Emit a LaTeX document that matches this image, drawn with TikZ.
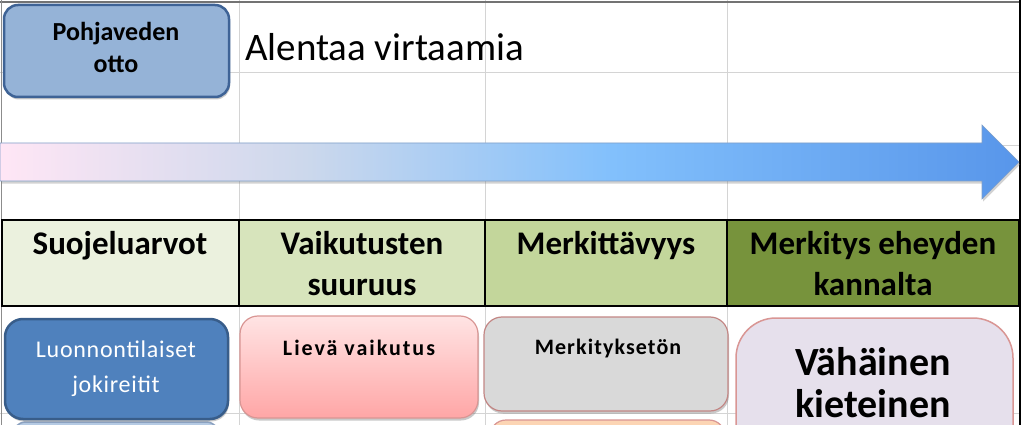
\documentclass[tikz,border=0pt]{standalone}
\usepackage{fontspec}
\setmainfont{Carlito}
\usetikzlibrary{shadows}
\definecolor{gridgray}{HTML}{D4D4D4}
\definecolor{hdrA}{HTML}{EBF1DE}
\definecolor{hdrB}{HTML}{D7E4BC}
\definecolor{hdrC}{HTML}{C3D69B}
\definecolor{hdrD}{HTML}{77933C}
\definecolor{boxblueL}{HTML}{95B3D7}
\definecolor{boxblueLd}{HTML}{3E6396}
\definecolor{boxblue}{HTML}{4F81BD}
\definecolor{boxblued}{HTML}{385D8A}
\definecolor{pinkT}{HTML}{FFE4E4}
\definecolor{pinkB}{HTML}{FFA6A6}
\definecolor{redline}{HTML}{D99694}
\definecolor{graybox}{HTML}{D9D9D9}
\definecolor{peach}{HTML}{FCD5B4}
\definecolor{lavender}{HTML}{E6E0EC}
\definecolor{arrL}{HTML}{FFE6F5}
\definecolor{arrQ}{HTML}{CCD8EC}
\definecolor{arrM}{HTML}{82C0FC}
\definecolor{arrR}{HTML}{5896EA}
\definecolor{arrline}{HTML}{7F9FC8}
\pgfdeclarehorizontalshading{arrowshade}{100bp}{color(0bp)=(arrL); color(25bp)=(arrL); color(40bp)=(arrQ); color(55bp)=(arrM); color(75bp)=(arrR); color(100bp)=(arrR)}
\tikzset{
  grid/.style={draw=gridgray, line width=0.8pt},
  hdrcell/.style={draw=black, line width=1.2pt},
  hdrtext/.style={anchor=base, inner sep=0pt, font=\fontsize{33}{35}\selectfont\bfseries},
  shad/.style={drop shadow={shadow xshift=1pt, shadow yshift=-2.5pt, opacity=0.35, fill=black!60}},
}
\begin{document}
\begin{tikzpicture}[x=1pt,y=-1pt]
\useasboundingbox (0,0) rectangle (1023,425);
\fill[white] (0,0) rectangle (1023,425);
% grid lines
\draw[grid] (239,0) -- (239,425);
\draw[grid] (485,0) -- (485,425);
\draw[grid] (727,0) -- (727,425);
\draw[grid] (0,72) -- (1020,72);
\draw[grid] (0,145) -- (1020,145);
\draw[grid] (0,413) -- (1020,413);
% frame
\draw[draw=black!55, line width=1.2pt] (0,2) -- (1020,2);
\draw[draw=black!45, line width=1pt] (1.5,0) -- (1.5,425);
\draw[draw=black, line width=2pt] (1020,0) -- (1020,425);
% big arrow
\fill[black!50, opacity=0.35]
  (1,145.5) -- (983,145.5) -- (983,127.5) -- (1020,164.5) -- (983,201.5) -- (983,183.5) -- (1,183.5) -- cycle;
\shade[shading=arrowshade, draw=arrline, line width=0.6pt]
  (0,143) -- (982,143) -- (982,125) -- (1019,162) -- (982,199) -- (982,181) -- (0,181) -- cycle;
% top box
\draw[shad, fill=boxblueL, draw=boxblueLd, line width=2.5pt, rounded corners=14pt]
  (4,5) rectangle (229,97);
\node[anchor=base, inner sep=0pt, font=\fontsize{26}{28}\selectfont\bfseries] (p1) at (116,41) {Pohjaveden};
\node[anchor=base, inner sep=0pt, font=\fontsize{26}{28}\selectfont\bfseries] (p2) at (116,73) {otto};
\node[anchor=base west, inner sep=0pt, font=\fontsize{39}{41}\selectfont] (alen) at (245,61) {Alentaa virtaamia};
% header row
\draw[hdrcell, fill=hdrA] (2,220) rectangle (239,306);
\draw[hdrcell, fill=hdrB] (239,220) rectangle (485,306);
\draw[hdrcell, fill=hdrC] (485,220) rectangle (727,306);
\draw[hdrcell, fill=hdrD] (727,220) rectangle (1019,306);
\node[hdrtext] (h1) at (120,254) {Suojeluarvot};
\node[hdrtext] (h2a) at (362,254) {Vaikutusten};
\node[hdrtext] (h2b) at (362,295) {suuruus};
\node[hdrtext] (h3) at (606,254) {Merkittävyys};
\node[hdrtext] (h4a) at (873,254) {Merkitys eheyden};
\node[hdrtext] (h4b) at (873,295) {kannalta};
% lower boxes (partial, cut by the border)
\draw[fill=boxblueL!70, draw=boxblueLd!60, line width=1.5pt, rounded corners=14pt] (12,422) rectangle (220,470);
\draw[fill=peach, draw=redline, line width=1.2pt, rounded corners=16pt] (490,420) rectangle (725,470);
% row boxes
\draw[shad, fill=boxblue, draw=boxblued, line width=2.5pt, rounded corners=18pt] (5,319) rectangle (228,419);
\node[anchor=base, inner sep=0pt, text=white, font=\fontsize{24}{26}\selectfont\addfontfeature{LetterSpace=3}] (l1) at (116,357) {Luonnontilaiset};
\node[anchor=base, inner sep=0pt, text=white, font=\fontsize{24}{26}\selectfont\addfontfeature{LetterSpace=3}] (l2) at (116,392) {jokireitit};
\shade[shad, top color=pinkT, bottom color=pinkB, draw=redline, line width=1.2pt, rounded corners=18pt] (240,316) rectangle (478,418);
\node[anchor=base, inner sep=0pt, font=\fontsize{22}{24}\selectfont\bfseries\addfontfeature{LetterSpace=9}] (lv) at (359,355) {Lievä vaikutus};
\draw[shad, fill=graybox, draw=redline!90!black, line width=1.2pt, rounded corners=18pt] (484,317) rectangle (728,411);
\node[anchor=base, inner sep=0pt, font=\fontsize{22}{24}\selectfont\bfseries\addfontfeature{LetterSpace=5}] (mk) at (608,354) {Merkityksetön};
\draw[fill=lavender, draw=redline, line width=1.5pt, rounded corners=40pt] (736,318) rectangle (1013,500);
\node[anchor=base, inner sep=0pt, font=\fontsize{40}{42}\selectfont\bfseries] (v1) at (873,375) {Vähäinen};
\node[anchor=base, inner sep=0pt, font=\fontsize{40}{42}\selectfont\bfseries] (v2) at (873,417) {kieteinen};
\end{tikzpicture}
\end{document}
